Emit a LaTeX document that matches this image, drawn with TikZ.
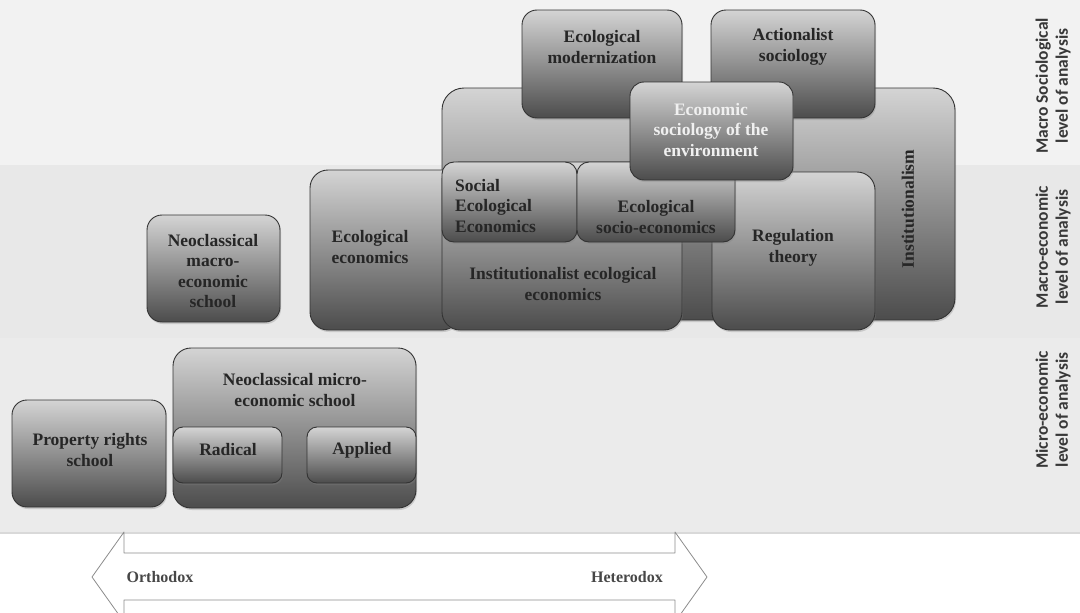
\documentclass[tikz,border=0pt]{standalone}
\usepackage{fontspec}
\setmainfont{Liberation Serif}
\newfontfamily\levelfont{Carlito}
\usetikzlibrary{shadows}

\definecolor{boxtop}{HTML}{D4D4D4}
\definecolor{boxmid}{HTML}{A2A2A2}
\definecolor{boxbot}{HTML}{4C4C4C}

\tikzset{
  schoolbox/.style={draw=black!80, line width=0.9pt, inner sep=0pt,
    top color=boxtop, middle color=boxmid, bottom color=boxbot,
    drop shadow={shadow xshift=1pt, shadow yshift=-2pt, opacity=.3}},
  boxtext/.style={font=\fontsize{17.5}{20.5}\selectfont\bfseries,
    text=black!85, align=center, inner sep=0pt},
  leveltext/.style={font=\levelfont\fontsize{17.5}{20}\selectfont\bfseries,
    text=black!78, align=center, inner sep=0pt, rotate=90},
  arrowtext/.style={font=\fontsize{16}{18}\selectfont\bfseries,
    text=black!72, inner sep=0pt},
}

\begin{document}
\begin{tikzpicture}[x=1pt, y=-1pt, line join=round, line cap=round]
  \useasboundingbox (0,0) rectangle (1080,613);

  % grey bands behind the three levels
  \fill[black!5] (0,0) rectangle (1080,165);
  \fill[black!9] (0,165) rectangle (1080,338);
  \fill[black!8] (0,338) rectangle (1080,533);
  \draw[black!15, line width=1.5pt] (0,533) -- (1080,533);

  % boxes, back to front: name/x/y/width/height/corner
  \foreach \n/\x/\y/\w/\h/\r in {
      inst/698.5/204/513/232/22,
      ecomod/602/64/160/108/15,
      action/793/64/164/108/15,
      ecoeco/385/250/150/160/18,
      instecoeco/562/246/240/168/18,
      regul/793.5/251/163/158/18,
      soceco/509.5/202/135/80/12,
      socioeco/656/202/158/80/12,
      econsoc/711.5/131/163/98/14,
      neomacro/213.5/268.5/133/107/15,
      neomicro/294.5/428/243/160/18,
      radical/227.5/455/109/56/10,
      applied/361.5/455/109/56/10,
      propright/89/453.5/154/107/15}
    \node[schoolbox, rounded corners=\r pt, minimum width=\w pt,
      minimum height=\h pt] (\n) at (\x,\y) {};

  \node[boxtext] (ecomodtext) at (602,47) {Ecological\\modernization};
  \node[boxtext] (actiontext) at (793,47) {Actionalist\\sociology};
  \node[boxtext, text=black!6] (econsoctext) at (711,130)
    {Economic\\sociology of the\\environment};
  \node[boxtext, rotate=90] (insttext) at (908,209) {Institutionalism};
  \node[boxtext] (ecoecotext) at (370,247) {Ecological\\economics};
  \node[boxtext] (instecoecotext) at (563,284)
    {Institutionalist ecological\\economics};
  \node[boxtext] (regultext) at (793,248) {Regulation\\theory};
  \node[boxtext, align=left, anchor=west] (socecotext) at (455,206)
    {Social\\Ecological\\Economics};
  \node[boxtext] (socioecotext) at (656,217) {Ecological\\socio-economics};
  \node[boxtext] (neomacrotext) at (213,271)
    {Neoclassical\\macro-\\economic\\school};
  \node[boxtext] (neomicrotext) at (295,390)
    {Neoclassical micro-\\economic school};
  \node[boxtext] (radicaltext) at (228,450) {Radical};
  \node[boxtext] (appliedtext) at (362,450) {Applied};
  \node[boxtext] (proprighttext) at (90,450) {Property rights\\school};

  % levels of analysis
  \foreach \n/\y/\t in {macrosoc/86/Macro Sociological,
      macroeco/247/Macro-economic, microeco/410/Micro-economic}
    \node[leveltext] (\n) at (1053,\y) {\t\\level of analysis};

  % orthodox -- heterodox
  \draw[black!45, line width=0.8pt, fill=white]
    (92,577) -- (124,532) -- (124,553) -- (675,553) -- (675,532)
    -- (707,577) -- (675,622) -- (675,600) -- (124,600) -- (124,622) -- cycle;
  \node[arrowtext] (orthodox) at (160,577) {Orthodox};
  \node[arrowtext] (heterodox) at (627,577) {Heterodox};
\end{tikzpicture}
\end{document}
